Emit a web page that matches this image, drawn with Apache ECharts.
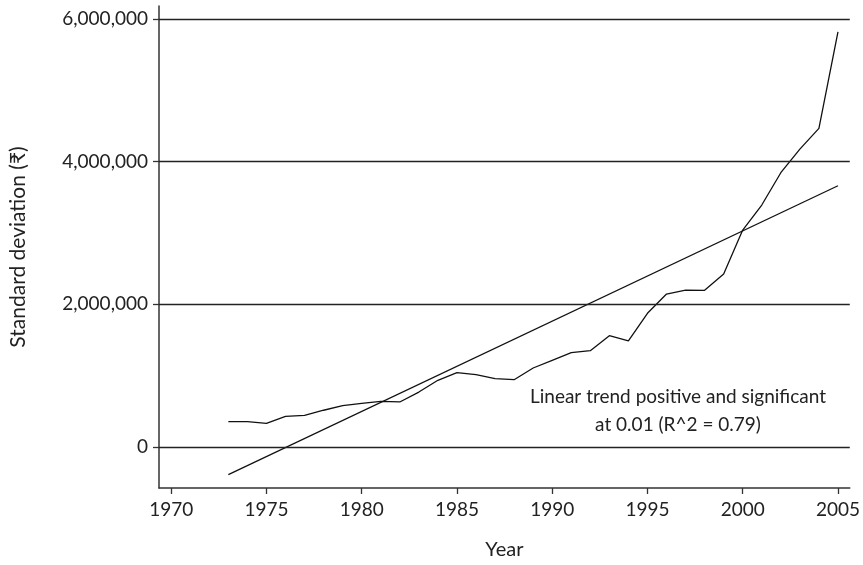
<!DOCTYPE html>
<html>
<head>
<meta charset="utf-8">
<script src="https://cdn.jsdelivr.net/npm/echarts@6/dist/echarts.min.js"></script>
<style>
  html, body { margin: 0; padding: 0; background: #fff; }
  #sd-line { width: 863px; height: 565px; }
</style>
</head>
<body>
<div id="sd-line"></div>
<script>
var years = [1973, 1974, 1975, 1976, 1977, 1978, 1979, 1980, 1981, 1982, 1983,
  1984, 1985, 1986, 1987, 1988, 1989, 1990, 1991, 1992, 1993, 1994, 1995,
  1996, 1997, 1998, 1999, 2000, 2001, 2002, 2003, 2004, 2005]
var sdValues = [355000, 355000, 332000, 430000, 444000, 515000, 579000, 612000,
  640000, 631000, 770000, 935000, 1041000, 1013000, 957000, 943000, 1107000,
  1215000, 1322000, 1350000, 1560000, 1486000, 1874000, 2144000, 2200000,
  2196000, 2425000, 3041000, 3392000, 3845000, 4176000, 4466000, 5821000]
var trendYears = [1973, 2005]
var trendValues = [-388000, 3662000]
var xTicks = [1970, 1975, 1980, 1985, 1990, 1995, 2000, 2005]
var yTicks = [0, 2000000, 4000000, 6000000]
var note = ['Linear trend positive and significant', 'at 0.01 (R^2 = 0.79)']

var font = 'Lato, "DejaVu Sans", sans-serif'
var ink = '#222'

var chart = echarts.init(document.getElementById('sd-line'))

function pairs(xs, ys) {
  return xs.map(function (x, i) { return [x, ys[i]] })
}

var option = {
  animation: false,
  grid: { left: 158.5, right: 11, top: 6, bottom: 77, containLabel: false },
  xAxis: {
    type: 'value',
    min: 1969.36,
    max: 2005.62,
    name: 'Year',
    nameLocation: 'middle',
    nameGap: 52,
    nameTextStyle: { fontFamily: font, fontSize: 20, color: ink, verticalAlign: 'top' },
    axisLine: { show: true, onZero: false, lineStyle: { color: '#333', width: 1.5 } },
    axisTick: { show: true, length: 6, customValues: xTicks, lineStyle: { color: '#333', width: 1.3 } },
    axisLabel: {
      customValues: xTicks, margin: 12, fontFamily: font, fontSize: 19, color: ink,
      formatter: function (v) { return String(v) }
    },
    splitLine: { show: false }
  },
  yAxis: {
    type: 'value',
    min: -575000,
    max: 6182000,
    name: 'Standard deviation (\u20b9)',
    nameLocation: 'middle',
    nameGap: 130,
    nameTextStyle: { fontFamily: font, fontSize: 21, color: ink },
    axisLine: { show: true, onZero: false, lineStyle: { color: '#333', width: 1.5 } },
    axisTick: { show: true, length: 6, customValues: yTicks, lineStyle: { color: '#333', width: 1.3 } },
    axisLabel: {
      customValues: yTicks, margin: 11, fontFamily: font, fontSize: 19, color: ink,
      formatter: function (v) { return Number(v).toLocaleString('en-US') }
    },
    splitLine: { show: false }
  },
  series: [
    {
      name: 'Standard deviation',
      type: 'line',
      data: pairs(years, sdValues),
      symbol: 'none',
      lineStyle: { color: '#111', width: 1.3 },
      markLine: {
        silent: true,
        symbol: 'none',
        label: { show: false },
        lineStyle: { color: '#222', width: 1.3, type: 'solid' },
        data: yTicks.map(function (v) { return { yAxis: v } })
      },
      z: 3
    },
    {
      name: 'Linear trend',
      type: 'line',
      data: pairs(trendYears, trendValues),
      symbol: 'none',
      lineStyle: { color: '#111', width: 1.3 },
      z: 3
    }
  ],
  graphic: [{
    type: 'text',
    x: 678,
    y: 383,
    style: {
      text: note.join('\n'),
      fontFamily: font,
      fontSize: 19,
      lineHeight: 28,
      fill: ink,
      align: 'center',
      verticalAlign: 'top'
    }
  }]
}
chart.setOption(option)
</script>
</body>
</html>
